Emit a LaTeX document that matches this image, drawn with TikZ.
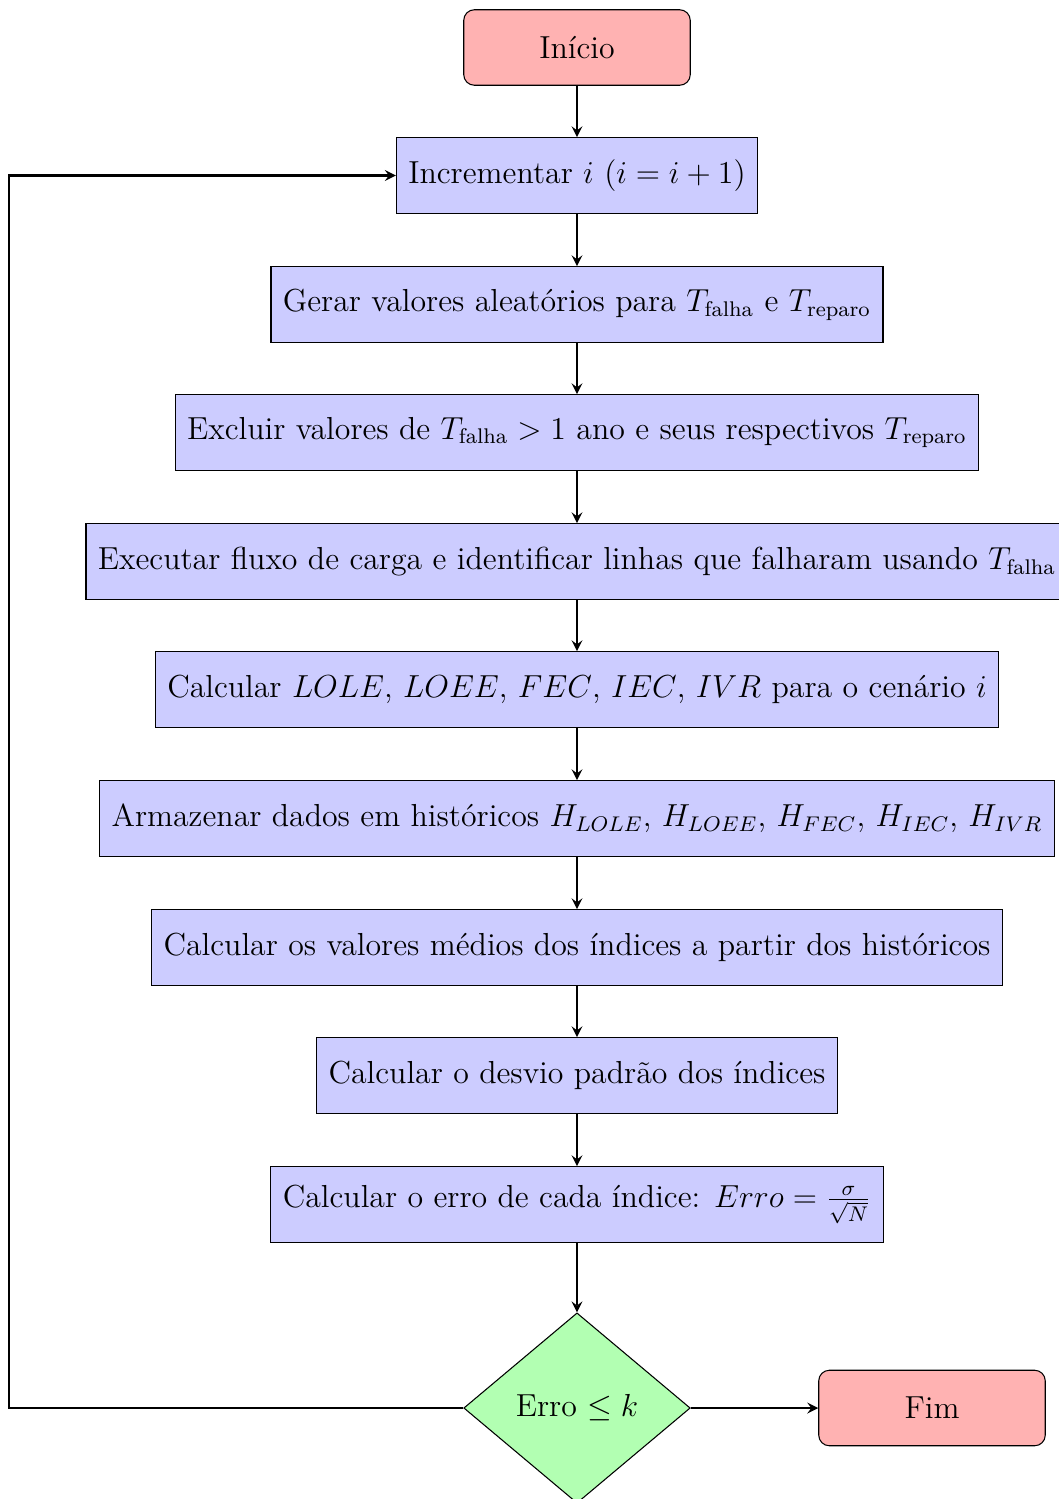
\documentclass[tikz,border=0pt]{standalone}
\usepackage{amsmath}
\usepackage{fontspec}
\usetikzlibrary{shapes.geometric,arrows.meta}
\tikzset{
  startstop/.style={rectangle, rounded corners, minimum width=3cm, minimum height=1cm, text centered, draw=black, fill=red!30, font=\large},
  process/.style={rectangle, inner xsep=4.5pt, minimum width=3cm, minimum height=1cm, text centered, draw=black, fill=blue!20, font=\large},
  decision/.style={diamond, aspect=1.2, minimum width=3cm, minimum height=2.52cm, text centered, draw=black, fill=green!30, font=\large},
  arrow/.style={thick, ->, >=stealth}
}
\begin{document}
\begin{tikzpicture}[x=0.013245cm, y=-0.013245cm]
\useasboundingbox (0,0) rectangle (1059,1499);
\node[startstop] (inicio) at (577,47.5) {Início};
\node[process] (inc) at (577,175.5) {Incrementar $i$ ($i = i + 1$)};
\node[process] (gerar) at (577,304.5) {Gerar valores aleatórios para $T_{\text{falha}}$ e $T_{\text{reparo}}$};
\node[process] (excl) at (577,432.5) {Excluir valores de $T_{\text{falha}} > 1$ ano e seus respectivos $T_{\text{reparo}}$};
\node[process] (exec) at (577,561.5) {Executar fluxo de carga e identificar linhas que falharam usando $T_{\text{falha}}$};
\node[process] (calc) at (577,689.5) {Calcular $LOLE$, $LOEE$, $FEC$, $IEC$, $IVR$ para o cenário $i$};
\node[process] (arm) at (577,818.5) {Armazenar dados em históricos $H_{LOLE}$, $H_{LOEE}$, $H_{FEC}$, $H_{IEC}$, $H_{IVR}$};
\node[process] (med) at (577,947.5) {Calcular os valores médios dos índices a partir dos históricos};
\node[process] (desv) at (577,1075.5) {Calcular o desvio padrão dos índices};
\node[process] (erro) at (577,1204.5) {Calcular o erro de cada índice: $Erro = \frac{\sigma}{\sqrt{N}}$};
\node[decision] (dec) at (577,1408) {Erro $\leq k$};
\node[startstop] (fim) at (932,1408) {Fim};
\coordinate (loop) at (9,1408);
\draw[arrow] (inicio) -- (inc);
\draw[arrow] (inc) -- (gerar);
\draw[arrow] (gerar) -- (excl);
\draw[arrow] (excl) -- (exec);
\draw[arrow] (exec) -- (calc);
\draw[arrow] (calc) -- (arm);
\draw[arrow] (arm) -- (med);
\draw[arrow] (med) -- (desv);
\draw[arrow] (desv) -- (erro);
\draw[arrow] (erro) -- (dec);
\draw[arrow] (dec) -- (fim);
\draw[arrow] (dec.west) -- (loop) |- (inc.west);
\end{tikzpicture}
\end{document}
